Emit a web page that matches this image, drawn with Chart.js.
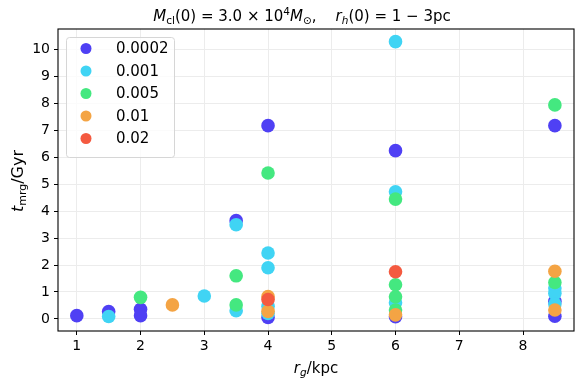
<!DOCTYPE html>
<html><head><meta charset="utf-8">
<script src="https://cdn.jsdelivr.net/npm/chart.js@4"></script>
<style>html,body{margin:0;padding:0;background:#fff}#wrap{width:582px;height:385px;position:relative}</style>
</head><body><div id="wrap"><canvas id="c" width="582" height="385"></canvas></div>
<script>
const seriesLabels = ["0.0002", "0.001", "0.005", "0.01", "0.02"];
const seriesColors = ["#4f40f4", "#40d4f4", "#44e880", "#f4a444", "#f45a40"];
const s0002 = [[1,0.12],[1.5,0.27],[2,0.36],[2,0.12],[3.5,3.65],[4,7.18],[4,0.05],[6,6.25],[6,0.08],[8.5,7.18],[8.5,0.65],[8.5,0.1]];
const s001 = [[1.5,0.09],[3,0.85],[3.5,3.5],[3.5,0.3],[4,2.45],[4,1.9],[4,0.47],[4,0.2],[6,10.3],[6,4.72],[6,0.6],[8.5,1.15],[8.5,0.95],[8.5,0.55]];
const s005 = [[2,0.8],[3.5,1.6],[3.5,0.52],[4,5.42],[6,4.45],[6,1.27],[6,0.82],[6,0.33],[8.5,7.95],[8.5,1.35]];
const s01 = [[2.5,0.52],[4,0.83],[4,0.28],[6,0.15],[8.5,1.77],[8.5,0.33]];
const s02 = [[4,0.72],[6,1.75]];
const xTicks = [1,2,3,4,5,6,7,8];
const yTicks = [0,1,2,3,4,5,6,7,8,9,10];
const allSeries = [s0002, s001, s005, s01, s02];

const FONT = "'DejaVu Sans', sans-serif";

function drawRich(ctx, segs, x, y, align) {
  let total = 0;
  for (const s of segs) { ctx.font = (s.it ? 'italic ' : '') + s.size + 'px ' + FONT; s.w = ctx.measureText(s.t).width; total += s.w; }
  let cx = align === 'center' ? x - total / 2 : x;
  ctx.textBaseline = 'alphabetic'; ctx.textAlign = 'left'; ctx.fillStyle = '#000';
  for (const s of segs) { ctx.font = (s.it ? 'italic ' : '') + s.size + 'px ' + FONT; ctx.fillText(s.t, cx, y + (s.dy || 0)); cx += s.w; }
}

const deco = {
  id: 'deco',
  afterDraw(chart) {
    const ctx = chart.ctx, a = chart.chartArea;
    ctx.save();
    ctx.strokeStyle = '#000'; ctx.lineWidth = 1.1;
    ctx.strokeRect(a.left, a.top, a.right - a.left, a.bottom - a.top);
    // title
    drawRich(ctx, [
      {t:'M', it:true, size:15}, {t:'cl', size:10.5, dy:3}, {t:'(0) = 3.0 × 10', size:15}, {t:'4', size:10.5, dy:-6},
      {t:'M', it:true, size:15}, {t:'⊙', size:10.5, dy:3}, {t:',', size:15}, {t:'    ', size:15},
      {t:'r', it:true, size:15}, {t:'h', it:true, size:10.5, dy:3}, {t:'(0) = 1 − 3pc', size:15}
    ], 302, 21, 'center');
    // x label
    drawRich(ctx, [{t:'r', it:true, size:15}, {t:'g', it:true, size:10.5, dy:3}, {t:'/kpc', size:15}], 316, 373, 'center');
    // y label
    ctx.save(); ctx.translate(23, 181); ctx.rotate(-Math.PI/2);
    drawRich(ctx, [{t:'t', it:true, size:16}, {t:'mrg', size:11, dy:3}, {t:'/Gyr', size:16}], 0, 0, 'center');
    ctx.restore();
    // legend
    const lx = 66, ly = 37, lw = 108, lh = 120;
    ctx.fillStyle = 'rgba(255,255,255,0.8)'; ctx.strokeStyle = '#d6d6d6'; ctx.lineWidth = 1;
    ctx.beginPath(); ctx.roundRect(lx + 0.5, ly + 0.5, lw, lh, 3); ctx.fill(); ctx.stroke();
    chart.data.datasets.forEach((ds, i) => {
      const yy = 48.5 + i * 22.5;
      ctx.fillStyle = ds.backgroundColor;
      ctx.beginPath(); ctx.arc(86, yy, 5.5, 0, Math.PI * 2); ctx.fill();
      ctx.fillStyle = '#000'; ctx.font = '15px ' + FONT; ctx.textBaseline = 'middle'; ctx.textAlign = 'left';
      ctx.fillText(ds.label, 116, yy + 1);
    });
    ctx.restore();
  }
};

const datasets = allSeries.map((s, i) => ({
  label: seriesLabels[i],
  data: s.map(p => ({x: p[0], y: p[1]})),
  backgroundColor: seriesColors[i],
  borderWidth: 0,
  pointRadius: 6.8,
  order: allSeries.length - 1 - i
}));

new Chart(document.getElementById('c'), {
  type: 'scatter',
  data: { datasets },
  plugins: [deco],
  options: {
    responsive: false, animation: false, devicePixelRatio: 1,
    layout: { padding: { top: 29, right: 8, left: 0, bottom: 0 } },
    plugins: { legend: { display: false }, tooltip: { enabled: false }, title: { display: false } },
    scales: {
      x: {
        type: 'linear', min: 0.705, max: 8.8,
        afterBuildTicks: sc => { sc.ticks = xTicks.map(v => ({value: v})); },
        afterFit: sc => { sc.height = 54; },
        grid: { color: '#ececec', lineWidth: 1, tickColor: '#000', tickLength: 4, drawTicks: true },
        border: { display: false },
        ticks: { color: '#000', font: { family: FONT, size: 14 }, padding: 3, maxRotation: 0 }
      },
      y: {
        type: 'linear', min: -0.45, max: 10.77,
        afterBuildTicks: sc => { sc.ticks = yTicks.map(v => ({value: v})); },
        afterFit: sc => { sc.width = 58; },
        grid: { color: '#ececec', lineWidth: 1, tickColor: '#000', tickLength: 4, drawTicks: true },
        border: { display: false },
        ticks: { color: '#000', font: { family: FONT, size: 14 }, padding: 4 }
      }
    }
  }
});
</script></body></html>
